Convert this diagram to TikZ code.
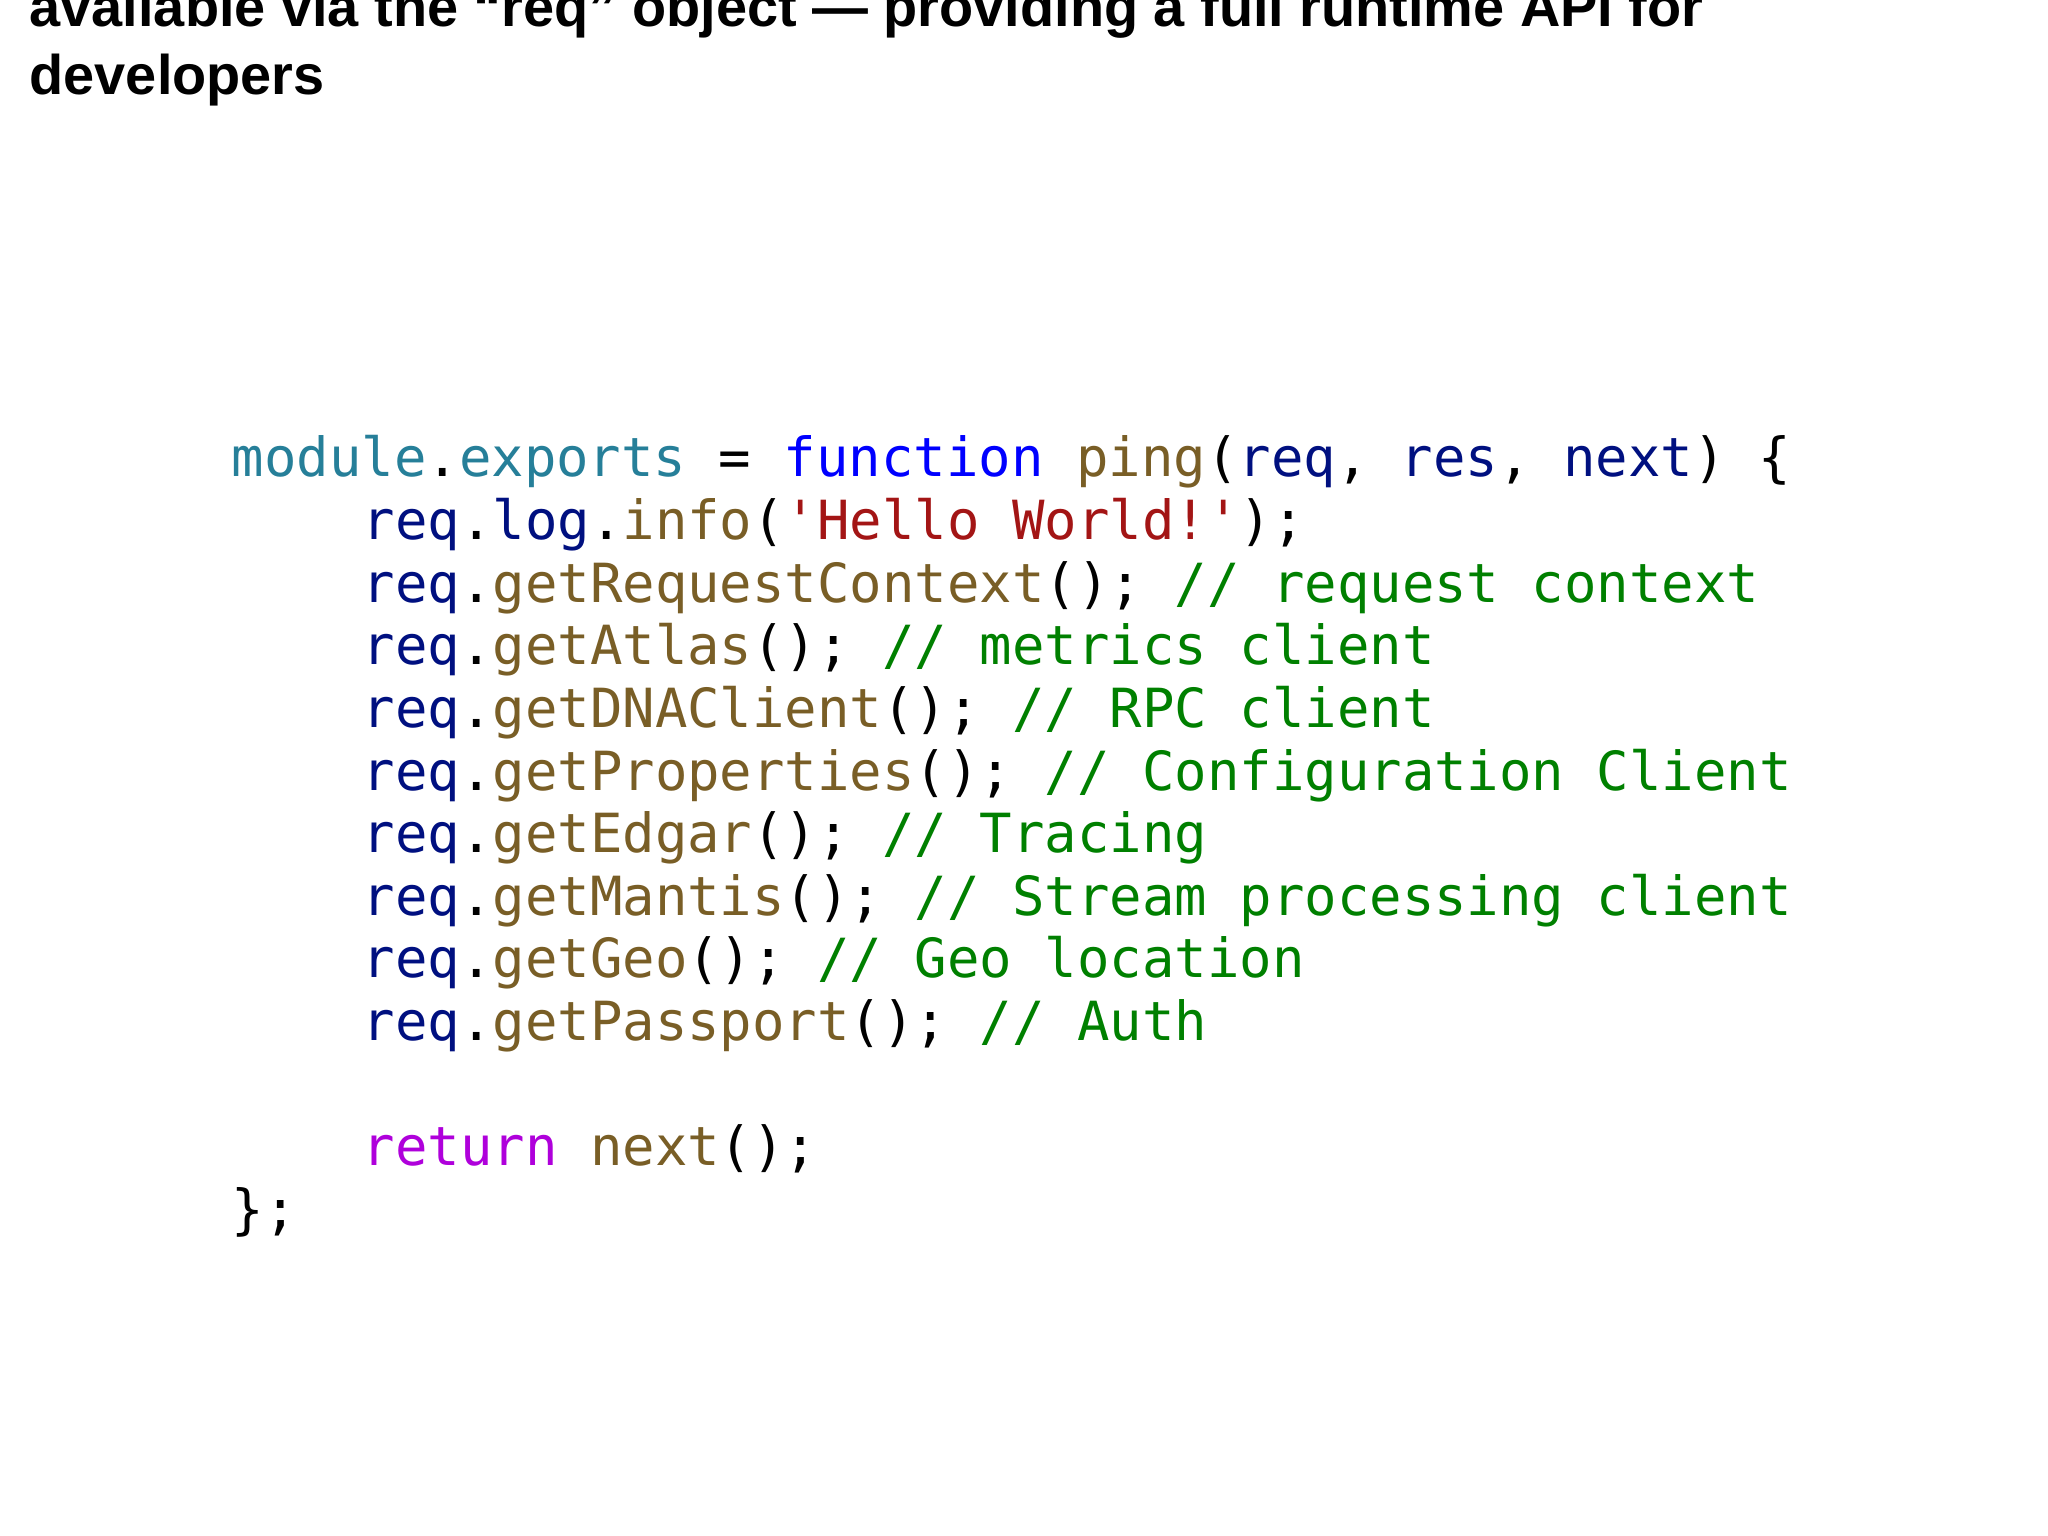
\documentclass[tikz,border=0pt]{standalone}
\usepackage{fontspec}
\setmainfont{Liberation Sans}
\setmonofont{DejaVu Sans Mono}
\definecolor{cteal}{HTML}{267F99}
\definecolor{cblue}{HTML}{0000FF}
\definecolor{cfun}{HTML}{795E26}
\definecolor{cvar}{HTML}{001080}
\definecolor{cstr}{HTML}{A31515}
\definecolor{ccom}{HTML}{008000}
\definecolor{cret}{HTML}{AF00DB}
\newcommand\Tq{\textcolor{cvar}{req}.}
\newcommand\Tf[1]{\textcolor{cfun}{#1}}
\newcommand\Tc[1]{\textcolor{ccom}{#1}}
\begin{document}
\begin{tikzpicture}[x=1cm,y=1cm,
  codeline/.style={anchor=base west,inner sep=0pt,font=\fontsize{15.35pt}{18pt}\ttfamily},
  titletext/.style={anchor=base west,inner sep=0pt,align=left,font=\fontsize{15.9pt}{19.6pt}\selectfont\bfseries}]
\useasboundingbox (0,0) rectangle (20.48,-15.36);
\fill[white] (0,0) rectangle (20.48,-15.36);
\node[titletext] (title) at (0.29,-0.95) {Platform components such as metrics, loggers, or RPC clients are\\ available via the “req” object — providing a full runtime API for\\ developers};
\def\dy{0.626}
\def\xa{2.31}
\def\xb{3.62}
\node[codeline] (l0) at (\xa,-4.77) {\textcolor{cteal}{module}.\textcolor{cteal}{exports} = \textcolor{cblue}{function} \Tf{ping}(\textcolor{cvar}{req}, \textcolor{cvar}{res}, \textcolor{cvar}{next}) \{};
\node[codeline] (l1) at (\xb,-4.77-1*\dy) {\Tq\textcolor{cvar}{log}.\Tf{info}(\textcolor{cstr}{'Hello World!'});};
\node[codeline] (l2) at (\xb,-4.77-2*\dy) {\Tq\Tf{getRequestContext}(); \Tc{// request context}};
\node[codeline] (l3) at (\xb,-4.77-3*\dy) {\Tq\Tf{getAtlas}(); \Tc{// metrics client}};
\node[codeline] (l4) at (\xb,-4.77-4*\dy) {\Tq\Tf{getDNAClient}(); \Tc{// RPC client}};
\node[codeline] (l5) at (\xb,-4.77-5*\dy) {\Tq\Tf{getProperties}(); \Tc{// Configuration Client}};
\node[codeline] (l6) at (\xb,-4.77-6*\dy) {\Tq\Tf{getEdgar}(); \Tc{// Tracing}};
\node[codeline] (l7) at (\xb,-4.77-7*\dy) {\Tq\Tf{getMantis}(); \Tc{// Stream processing client}};
\node[codeline] (l8) at (\xb,-4.77-8*\dy) {\Tq\Tf{getGeo}(); \Tc{// Geo location}};
\node[codeline] (l9) at (\xb,-4.77-9*\dy) {\Tq\Tf{getPassport}(); \Tc{// Auth}};
\node[codeline] (l10) at (\xb,-4.77-11*\dy) {\textcolor{cret}{return} \Tf{next}();};
\node[codeline] (l11) at (\xa,-4.77-12*\dy) {\};};
\end{tikzpicture}
\end{document}
